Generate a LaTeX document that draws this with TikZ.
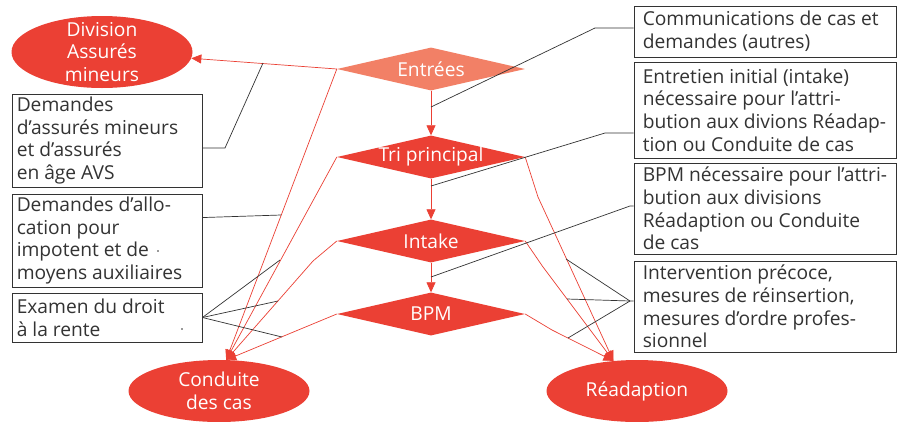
\documentclass[tikz,border=0pt]{standalone}
\usepackage{fontspec}
\setmainfont{Open Sans}
\usetikzlibrary{shapes.geometric,arrows.meta,calc}
\definecolor{ored}{RGB}{235,64,52}
\definecolor{osalmon}{RGB}{242,128,102}
\definecolor{ogray}{RGB}{51,51,51}
\begin{document}
\begin{tikzpicture}[x=1pt,y=-1pt,
  txt/.style={font=\fontsize{19.2}{22.7}\selectfont},
  oval/.style={ellipse, fill=ored, draw=none, inner sep=0pt, minimum width=181pt, minimum height=62pt},
  wtext/.style={txt, text=white, align=center, inner sep=0pt},
  dia/.style={diamond, fill=ored, draw=none, inner sep=0pt, minimum width=188pt, minimum height=43pt},
  frame/.style={draw=ogray, line width=0.9pt, inner sep=0pt},
  btext/.style={txt, text=ogray, align=left, inner sep=0pt, anchor=west},
  rl/.style={draw=ored, line width=0.7pt},
  rarrow/.style={rl, -{Triangle[length=10pt,width=9pt]}},
  bl/.style={draw=ogray, line width=0.7pt},
]
\useasboundingbox (0,0) rectangle (901,421);
\fill[white] (0,0) rectangle (901,421);

% ellipses
\node[oval, minimum height=72pt] (div) at (102,52) {};
\node[wtext] (divT) at (div) {Division\\Assurés\\mineurs};
\node[oval] (cond) at (219,391) {};
\node[wtext] (condT) at (cond) {Conduite\\des cas};
\node[oval] (rea) at (637,391) {};
\node[wtext] (reaT) at (rea) {Réadaption};

% diamonds
\node[dia, fill=osalmon] (entrees) at (431,69) {};
\node[wtext] (entreesT) at (entrees) {Entrées};
\node[dia] (tri) at (431,157) {};
\node[wtext] (triT) at (tri) {Tri principal};
\node[dia] (intake) at (431,241) {};
\node[wtext] (intakeT) at (intake) {Intake};
\node[dia] (bpm) at (431,314) {};
\node[wtext] (bpmT) at (bpm) {BPM};

% right boxes
\node[frame, minimum width=262pt, minimum height=51pt] (comm) at (765,31.5) {};
\node[btext] (commT) at ($(comm.west)+(9,0)$) {Communications de cas et\\demandes (autres)};
\node[frame, minimum width=262pt, minimum height=96pt] (entr) at (765,110) {};
\node[btext] (entrT) at ($(entr.west)+(9,0)$) {Entretien initial (intake)\\nécessaire pour l’attri-\\bution aux divions Réadap-\\tion ou Conduite de cas};
\node[frame, minimum width=262pt, minimum height=91pt] (bpmb) at (765,208.5) {};
\node[btext] (bpmbT) at ($(bpmb.west)+(9,0)$) {BPM nécessaire pour l’attri-\\bution aux divisions\\Réadaption ou Conduite\\de cas};
\node[frame, minimum width=262pt, minimum height=91pt] (interv) at (765,306.5) {};
\node[btext] (intervT) at ($(interv.west)+(9,0)$) {Intervention précoce,\\mesures de réinsertion,\\mesures d’ordre profes-\\sionnel};

% left boxes
\node[frame, minimum width=190pt, minimum height=93pt] (boxA) at (107,140.5) {};
\node[btext] (boxAT) at ($(boxA.west)+(5,0)$) {Demandes\\d’assurés mineurs\\et d’assurés\\en âge AVS};
\node[frame, minimum width=190pt, minimum height=93pt] (boxB) at (107,240.5) {};
\node[btext] (boxBT) at ($(boxB.west)+(5,0)$) {Demandes d’allo-\\cation pour\\impotent et de\\moyens auxiliaires};
\node[frame, minimum width=190pt, minimum height=49pt] (boxC) at (107,317.5) {};
\node[btext] (boxCT) at ($(boxC.west)+(5,0)$) {Examen du droit\\à la rente};
\fill[ogray] (158,251) circle (0.8);
\fill[ogray] (182,329) circle (0.8);

% vertical arrows
\draw[rarrow] (entrees.south) -- (tri.north);
\draw[rarrow] (tri.south) -- (intake.north);
\draw[rarrow] (intake.south) -- (bpm.north);

% red connectors
\draw[rarrow] (entrees.west) -- (div.-4);
\coordinate (c3) at (313,261);
\draw[rarrow] (entrees.west) -- (cond.77);
\draw[rarrow] (tri.west) -- (cond.77);
\draw[rarrow] (intake.west) -- (c3) -- (cond.77);
\draw[rarrow] (bpm.west) -- (cond.77);
\coordinate (r1) at (538,197);
\coordinate (r2) at (543,267);
\coordinate (r3) at (552,330);
\draw[rarrow] (tri.east) -- (r1) -- (rea.128);
\draw[rarrow] (intake.east) -- (r2) -- (rea.128);
\draw[rarrow] (bpm.east) -- (r3) -- (rea.128);

% black connectors, right
\coordinate (k1a) at (595,28);
\coordinate (k1) at (431,107);
\draw[bl] (comm.west |- k1a) -- (k1a) -- (k1);
\coordinate (k2a) at (605,133);
\coordinate (k2) at (431,186);
\draw[bl] (entr.west |- k2a) -- (k2a) -- (k2);
\coordinate (k3a) at (630,206);
\coordinate (k3) at (431,277);
\draw[bl] (bpmb.west |- k3a) -- (k3a) -- (k3);
\coordinate (hub) at (630,301);
\coordinate (k4) at (566,259);
\coordinate (k5) at (567,299);
\coordinate (k6) at (568,338);
\draw[bl] (interv.west |- hub) -- (hub) -- (k4);
\draw[bl] (hub) -- (k5);
\draw[bl] (hub) -- (k6);

% black connectors, left
\coordinate (a1) at (225,148);
\coordinate (a2) at (263,63);
\draw[bl] (boxA.east |- a1) -- (a1) -- (a2);
\coordinate (b1) at (281,215);
\draw[bl] (boxB.north east) ++(0,24) -- (b1);
\coordinate (e1) at (280,260);
\coordinate (e2) at (278,301);
\coordinate (e3) at (282,337);
\draw[bl] (boxC.east) -- (e1);
\draw[bl] (boxC.east) -- (e2);
\draw[bl] (boxC.east) -- (e3);
\end{tikzpicture}
\end{document}
